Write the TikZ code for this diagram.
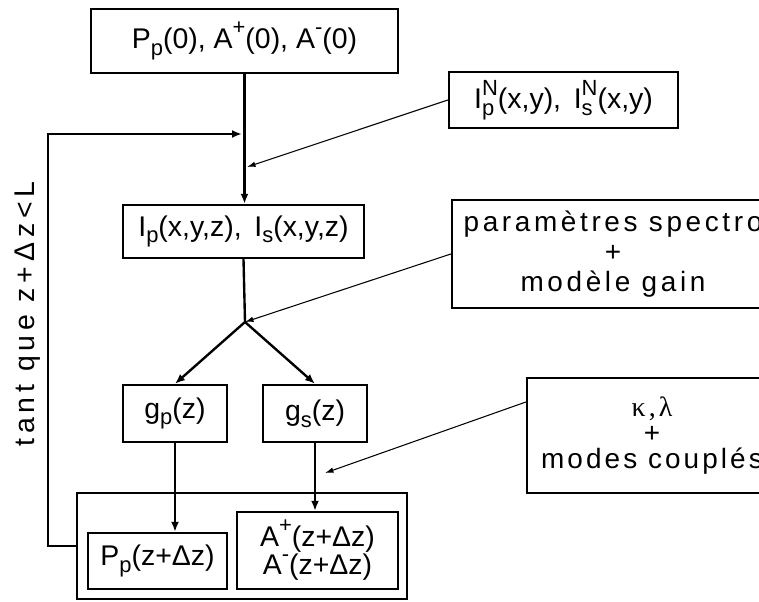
\documentclass[tikz,border=0pt]{standalone}
\usepackage{fontspec}
\setmainfont{Liberation Sans}
\newfontfamily\widefont[LetterSpace=11]{Liberation Sans}
\newfontfamily\spectrofont[LetterSpace=13]{Liberation Sans}
\newfontfamily\loopfont[LetterSpace=17]{Liberation Sans}
\newfontfamily\greekfont[LetterSpace=11]{Liberation Serif}
\usepackage{tikz}
\usetikzlibrary{arrows.meta, positioning, calc}
% lowered / raised indices
\newcommand{\lo}[1]{\raisebox{-0.24em}{\fontsize{12.5}{12.5}\selectfont #1}}
\newcommand{\hi}[1]{\raisebox{0.48em}{\fontsize{12.5}{12.5}\selectfont #1}}
\newcommand{\subsup}[2]{\rlap{\lo{#1}}\hi{#2}}

\begin{document}
\begin{tikzpicture}[
    x=0.02cm, y=-0.02cm,
    box/.style={draw, line width=1.35pt, inner sep=0pt, align=center,
        font=\fontsize{16.2}{19}\selectfont},
    widebox/.style={box, font=\widefont\fontsize{15.9}{17}\selectfont},
    flow/.style={line width=1.35pt, -{Latex[length=0.2cm, width=0.16cm]}},
    feed/.style={line width=0.6pt, -{Latex[length=0.17cm, width=0.11cm]}}
]
    \clip (0,0) rectangle (759,601);

    % main chain
    \node[box, minimum width=6.14cm, minimum height=1.28cm] (init) at (244.5,41)
        {P\lo{p}(0), A\hi{+}(0), A\hi{-}(0)};
    \node[box, minimum width=4.82cm, minimum height=1.06cm] (fields) at (243.5,231.5)
        {I\lo{p}(x,y,z),\, I\lo{s}(x,y,z)};
    \node[box, minimum width=2.08cm, minimum height=1.14cm] (gp) at (175,413.5)
        {g\lo{p}(z)};
    \node[box, minimum width=2.08cm, minimum height=1.14cm] (gs) at (315,413.5)
        {g\lo{s}(z)};

    % propagation step
    \node[box, minimum width=6.6cm, minimum height=2.12cm] (stage) at (242,546) {};
    \node[box, minimum width=2.78cm, minimum height=1.12cm] (pnext) at (157.5,561)
        {P\lo{p}(z+Δz)};
    \node[box, minimum width=3.22cm, minimum height=1.54cm,
        font=\fontsize{16.2}{12.5}\selectfont] (anext) at (317.5,550.5)
        {A\hi{+}(z+Δz)\\A\hi{-}(z+Δz)};

    % inputs on the right
    \node[box, minimum width=4.58cm, minimum height=1.12cm] (noise) at (563.5,100)
        {I\subsup{p}{N}(x,y),\, I\subsup{s}{N}(x,y)};
    \node[widebox, minimum width=6.44cm, minimum height=2.16cm,
        font=\spectrofont\fontsize{15.9}{17}\selectfont] (spectro) at (613,254)
        {paramètres spectro\\+\\modèle gain};
    \node[widebox, minimum width=5cm, minimum height=2.3cm,
        font=\widefont\fontsize{15.9}{14.6}\selectfont] (kappa) at (652,435.5)
        {{\greekfont κ,λ}\\+\\modes couplés};

    % loop condition
    \node[rotate=90, font=\loopfont\fontsize{16.2}{19}\selectfont] (cond) at (28,314)
        {tant que z+Δz<L};

    \coordinate (loopin) at (242,134);
    \coordinate (tapA) at (247,167);
    \coordinate (split) at (245,322);
    \coordinate (tapB) at (325,473);
    \coordinate (corner) at (48,546);

    % connectors
    \draw[flow] (init.south) -- (init.south |- fields.north);
    \draw[line width=1.35pt] (fields.south) -- (split);
    \draw[flow] (split) -- (gp.north);
    \draw[flow] (split) -- (gs.north);
    \draw[flow] (gp.south) -- (gp.south |- pnext.north);
    \draw[flow] (gs.south) -- (gs.south |- anext.north);
    \draw[flow] (stage.west) -- (corner) |- (loopin);

    \draw[feed] (noise.west) -- (tapA);
    \draw[feed] (spectro.west) -- (split);
    \draw[feed] ([yshift=0.67cm]kappa.west) -- (tapB);
\end{tikzpicture}
\end{document}
